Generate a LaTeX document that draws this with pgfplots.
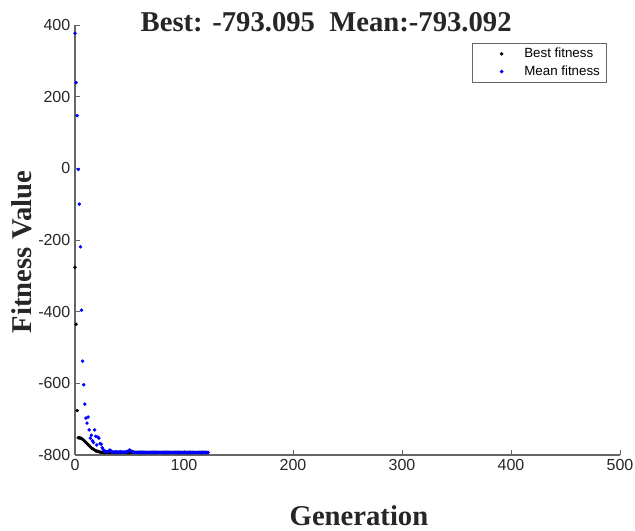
\documentclass[border=0pt]{standalone}
\usepackage{fontspec}
\setmainfont{Liberation Serif}
\setsansfont{Liberation Sans}
\usepackage{pgfplots}
\usepackage{pgfplotstable}
\pgfplotsset{compat=1.18}
\definecolor{axgray}{RGB}{38,38,38}

% generation, best fitness, mean fitness
\pgfplotstableread[row sep=\\]{
gen best mean\\
0 -276 377\\ 1 -435 239\\ 2 -676 147\\ 3 -752 -3\\ 4 -752 -100\\
5 -753 -219\\ 6 -754 -396\\ 7 -756 -538\\ 8 -759 -604\\ 9 -762 -658\\
10 -765 -697\\ 11 -768 -711\\ 12 -771 -694\\ 13 -774 -730\\ 14 -777 -753\\
15 -780 -745\\ 16 -782 -760\\ 17 -784 -765\\ 18 -786 -730\\ 19 -788 -748\\
20 -789 -772\\ 21 -790 -750\\ 22 -791 -753\\ 23 -792 -768\\ 24 -792.5 -770\\
25 -793 -780\\ 26 -793 -785\\ 27 -793 -789\\ 28 -793 -790\\ 29 -793 -791\\
30 -793 -791\\ 31 -793 -789\\ 32 -793 -786\\ 33 -793 -789\\ 34 -793 -791\\
35 -793 -792\\ 36 -793 -792\\ 37 -793 -791\\ 38 -793 -792\\ 39 -793 -792\\
40 -793 -792\\ 41 -793 -792\\ 42 -793 -791\\ 43 -793 -792\\ 44 -793 -792\\
45 -793 -792\\ 46 -793 -792\\ 47 -793 -791\\ 48 -793 -790\\ 49 -793 -789\\
50 -793 -786\\ 51 -793 -788\\ 52 -793 -790\\ 53 -793 -791\\ 54 -793 -792\\
55 -793 -792.5\\ 56 -793 -792.8\\ 57 -793 -792.5\\ 58 -793 -792.9\\ 59 -793 -792.6\\
60 -793 -792.8\\ 61 -793 -792.9\\ 62 -793 -792.5\\ 63 -793 -792.9\\ 64 -793 -792.7\\
65 -793 -792.9\\ 66 -793 -792.8\\ 67 -793 -792.9\\ 68 -793 -792.6\\ 69 -793 -792.9\\
70 -793 -792.8\\ 71 -793 -792.9\\ 72 -793 -792.9\\ 73 -793 -792.7\\ 74 -793 -792.9\\
75 -793 -792.9\\ 76 -793 -792.8\\ 77 -793 -792.9\\ 78 -793 -792.9\\ 79 -793 -792.8\\
80 -793 -792.9\\ 81 -793 -792.9\\ 82 -793 -792.9\\ 83 -793 -792.8\\ 84 -793 -793\\
85 -793 -792.9\\ 86 -793 -792.9\\ 87 -793 -793\\ 88 -793 -792.9\\ 89 -793 -792.9\\
90 -793.095 -793\\ 91 -793.095 -792.9\\ 92 -793.095 -793\\ 93 -793.095 -793\\ 94 -793.095 -792.9\\
95 -793.095 -793\\ 96 -793.095 -793\\ 97 -793.095 -793\\ 98 -793.095 -792.9\\ 99 -793.095 -793\\
100 -793.095 -793\\ 101 -793.095 -793\\ 102 -793.095 -793\\ 103 -793.095 -793\\ 104 -793.095 -793\\
105 -793.095 -793\\ 106 -793.095 -793\\ 107 -793.095 -793\\ 108 -793.095 -793.05\\ 109 -793.095 -793.05\\
110 -793.095 -793.05\\ 111 -793.095 -793.05\\ 112 -793.095 -793.06\\ 113 -793.095 -793.06\\ 114 -793.095 -793.07\\
115 -793.095 -793.07\\ 116 -793.095 -793.08\\ 117 -793.095 -793.08\\ 118 -793.095 -793.09\\ 119 -793.095 -793.09\\
120 -793.095 -793.09\\ 121 -793.095 -793.092\\ 122 -793.095 -793.092\\
}\gadata

\begin{document}
\begin{tikzpicture}
\useasboundingbox (-56.25pt,-57pt) rectangle (420pt,341.25pt);
\begin{axis}[
  at={(0,0)}, anchor=south west,
  scale only axis, width=408.75pt, height=322.5pt,
  xmin=0, xmax=500, ymin=-800, ymax=400,
  xtick={0,100,...,500}, ytick={-800,-600,...,400},
  axis x line*=bottom, axis y line*=left,
  axis line style={-, black!60, line width=0.9pt},
  tick align=inside, major tick length=4pt,
  tick style={black!60, line width=0.6pt},
  tick label style={font=\sffamily\fontsize{12}{12}\selectfont, text=axgray},
  /pgf/number format/assume math mode=true,
  scaled ticks=false,
  title={\bfseries Best: -793.095~~Mean:-793.092},
  title style={font=\fontsize{21.5}{21.5}\selectfont, text=axgray,
    at={(axis description cs:0.5,1)}, anchor=base, xshift=-16pt, yshift=-11pt},
  xlabel={\bfseries Generation},
  xlabel style={font=\fontsize{21.5}{21.5}\selectfont, text=axgray,
    at={(axis description cs:0.5,0)}, anchor=base, xshift=8.6pt, yshift=-52.5pt},
  ylabel={\bfseries Fitness Value},
  ylabel style={font=\fontsize{21.5}{21.5}\selectfont, text=axgray,
    at={(axis description cs:-0.097,0.472)}, anchor=center},
  legend style={at={(axis description cs:0.976,0.958)}, anchor=north east,
    font=\sffamily\fontsize{10}{12}\selectfont, draw=black!60, line width=0.5pt,
    inner xsep=3pt, inner ysep=1.5pt, row sep=0.5pt},
  legend cell align=left,
  legend image code/.code={\path[mark repeat=2, mark phase=2, #1]
    plot coordinates {(0pt,0pt) (19pt,0pt) (34pt,0pt)};},
]
\addplot[draw=none, mark=*, mark size=1.1pt, mark options={draw=black, fill=black}]
  table[x=gen, y=best] {\gadata};
\addlegendentry{Best fitness}
\addplot[draw=none, mark=*, mark size=1.1pt, mark options={draw=blue, fill=blue}]
  table[x=gen, y=mean] {\gadata};
\addlegendentry{Mean fitness}
\end{axis}
\end{tikzpicture}
\end{document}
